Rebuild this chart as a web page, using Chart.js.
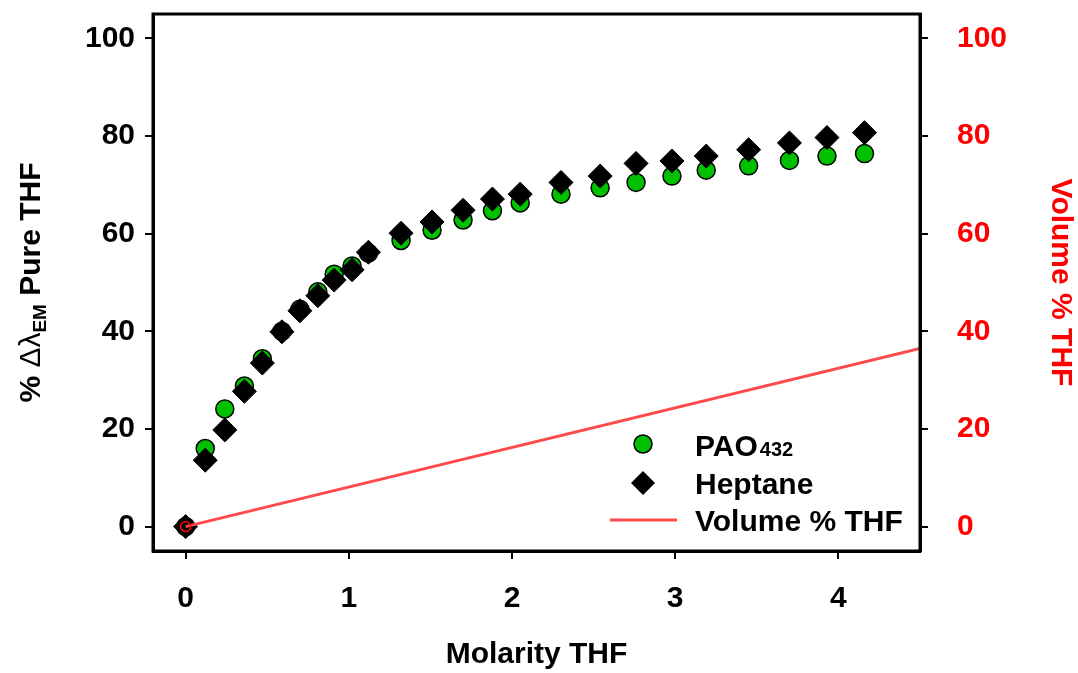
<!DOCTYPE html>
<html>
<head>
<meta charset="utf-8">
<script src="https://cdn.jsdelivr.net/npm/chart.js@4.4.1/dist/chart.umd.min.js"></script>
<style>
html,body{margin:0;padding:0;background:#fff;}
#wrap{width:1078px;height:673px;}
</style>
</head>
<body>
<div id="wrap"><canvas id="c" width="1078" height="673"></canvas></div>
<script>
// ---- data ----
const molarity = [0, 0.12, 0.24, 0.36, 0.47, 0.59, 0.70, 0.81, 0.91, 1.02, 1.12, 1.32, 1.51, 1.70, 1.88, 2.05, 2.30, 2.54, 2.76, 2.98, 3.19, 3.45, 3.70, 3.93, 4.16];
const pao432 = [0, 16.0, 24.1, 28.8, 34.4, 40.0, 44.5, 48.1, 51.7, 53.4, 56.0, 58.6, 60.7, 62.8, 64.7, 66.3, 68.1, 69.4, 70.5, 71.8, 73.0, 73.9, 75.0, 75.9, 76.4];
const heptane = [0, 13.6, 19.8, 27.7, 33.5, 39.9, 44.2, 47.3, 50.5, 52.6, 56.2, 60.1, 62.4, 64.8, 67.1, 68.1, 70.5, 71.8, 74.4, 74.9, 75.9, 77.2, 78.6, 79.7, 80.7];
const volMolarity = [0, 4.5];
const volPercent = [0, 36.5];
const xTicks = [0, 1, 2, 3, 4];
const yTicks = [0, 20, 40, 60, 80, 100];

const FAM = '"Liberation Sans", Arial, Helvetica, sans-serif';
const GREEN = '#00c000';
const RED_LINE = '#ff4a4a';

const toXY = (xs, ys) => xs.map((x, i) => ({x: x, y: ys[i]}));

const tickFont = {family: FAM, size: 30, weight: 'bold'};

const decorPlugin = {
  id: 'decor',
  afterDraw(chart) {
    const ctx = chart.ctx;
    const a = chart.chartArea;
    ctx.save();
    // frame
    ctx.strokeStyle = '#000';
    ctx.lineWidth = 3;
    ctx.strokeRect(a.left, a.top, a.right - a.left, a.bottom - a.top);

    // x title
    ctx.fillStyle = '#000';
    ctx.font = 'bold 30px ' + FAM;
    ctx.textAlign = 'center';
    ctx.textBaseline = 'middle';
    ctx.fillText('Molarity THF', (a.left + a.right) / 2, 655);

    // left title with subscript
    const cy = (a.top + a.bottom) / 2;
    ctx.save();
    ctx.translate(29, cy);
    ctx.rotate(-Math.PI / 2);
    const segs = [
      {t: '% ', f: 'bold 30px ' + FAM, dy: 0},
      {t: '\u0394\u03bb', f: '30px ' + FAM, dy: 0},
      {t: 'EM', f: 'bold 19px ' + FAM, dy: 6},
      {t: ' Pure THF', f: 'bold 30px ' + FAM, dy: 0}
    ];
    let total = 0;
    segs.forEach(s => { ctx.font = s.f; s.w = ctx.measureText(s.t).width; total += s.w; });
    let x0 = -total / 2;
    ctx.textAlign = 'left';
    ctx.textBaseline = 'alphabetic';
    segs.forEach(s => { ctx.font = s.f; ctx.fillText(s.t, x0, 11 + s.dy); x0 += s.w; });
    ctx.restore();

    // right title
    ctx.save();
    ctx.translate(1060, cy);
    ctx.rotate(Math.PI / 2);
    ctx.fillStyle = '#ff0000';
    ctx.font = 'bold 30px ' + FAM;
    ctx.textAlign = 'center';
    ctx.textBaseline = 'middle';
    ctx.fillText('Volume % THF', 0, 0);
    ctx.restore();

    // legend
    const lx = 643, tx = 695;
    const rows = [444, 483, 520];
    ctx.beginPath();
    ctx.arc(lx, rows[0], 9, 0, Math.PI * 2);
    ctx.fillStyle = GREEN; ctx.fill();
    ctx.lineWidth = 1.5; ctx.strokeStyle = '#000'; ctx.stroke();
    ctx.beginPath();
    ctx.moveTo(lx - 12, rows[1]); ctx.lineTo(lx, rows[1] - 12);
    ctx.lineTo(lx + 12, rows[1]); ctx.lineTo(lx, rows[1] + 12); ctx.closePath();
    ctx.fillStyle = '#000'; ctx.fill();
    ctx.beginPath();
    ctx.moveTo(610, rows[2]); ctx.lineTo(677, rows[2]);
    ctx.strokeStyle = RED_LINE; ctx.lineWidth = 3; ctx.stroke();
    ctx.fillStyle = '#000';
    ctx.textAlign = 'left';
    ctx.textBaseline = 'alphabetic';
    ctx.font = 'bold 30px ' + FAM;
    ctx.fillText('PAO', tx, rows[0] + 12);
    const w = ctx.measureText('PAO').width;
    ctx.font = 'bold 20px ' + FAM;
    ctx.fillText('432', tx + w + 2, rows[0] + 12);
    ctx.font = 'bold 30px ' + FAM;
    ctx.fillText('Heptane', tx, rows[1] + 11);
    ctx.fillText('Volume % THF', tx, rows[2] + 11);
    ctx.restore();
  }
};

const noPadV = s => { s.paddingTop = 0; s.paddingBottom = 0; };

new Chart(document.getElementById('c'), {
  type: 'scatter',
  data: {
    datasets: [
      {
        label: 'PAO432',
        data: toXY(molarity, pao432),
        yAxisID: 'y',
        pointStyle: 'circle',
        pointRadius: 9,
        pointHoverRadius: 9,
        backgroundColor: GREEN,
        borderColor: '#000',
        borderWidth: 1.5,
        order: 2
      },
      {
        label: 'Heptane',
        data: toXY(molarity, heptane),
        yAxisID: 'y',
        pointStyle: 'rectRot',
        pointRadius: 12,
        pointHoverRadius: 12,
        backgroundColor: '#000',
        borderColor: '#000',
        borderWidth: 1,
        order: 1
      },
      {
        type: 'line',
        label: 'Volume % THF',
        data: toXY(volMolarity, volPercent),
        yAxisID: 'y2',
        borderColor: RED_LINE,
        borderWidth: 3,
        pointRadius: [5, 0],
        pointBorderColor: '#ff0000',
        pointBackgroundColor: 'rgba(0,0,0,0)',
        pointBorderWidth: 1.5,
        fill: false,
        tension: 0,
        order: 0
      }
    ]
  },
  options: {
    responsive: false,
    animation: false,
    devicePixelRatio: 1,
    layout: {padding: {top: 14, left: 0, right: 0, bottom: 0}},
    plugins: {legend: {display: false}, tooltip: {enabled: false}},
    scales: {
      x: {
        type: 'linear',
        min: -0.2, max: 4.5,
        afterBuildTicks: s => { s.ticks = xTicks.map(v => ({value: v})); },
        afterFit: s => { s.height = 122; s.paddingLeft = 0; s.paddingRight = 0; },
        grid: {drawOnChartArea: false, drawTicks: true, tickLength: 8, color: '#000', lineWidth: 2},
        border: {color: '#000', width: 3},
        ticks: {color: '#000', font: tickFont, padding: 22, maxRotation: 0, callback: v => String(v)}
      },
      y: {
        position: 'left',
        min: -5, max: 105,
        afterBuildTicks: s => { s.ticks = yTicks.map(v => ({value: v})); },
        afterFit: s => { s.width = 153; noPadV(s); },
        grid: {drawOnChartArea: false, drawTicks: true, tickLength: 8, color: '#000', lineWidth: 2},
        border: {color: '#000', width: 3},
        ticks: {color: '#000', font: tickFont, padding: 10, callback: v => String(v)}
      },
      y2: {
        position: 'right',
        min: -5, max: 105,
        afterBuildTicks: s => { s.ticks = yTicks.map(v => ({value: v})); },
        afterFit: s => { s.width = 158; noPadV(s); },
        grid: {drawOnChartArea: false, drawTicks: true, tickLength: 8, color: '#000', lineWidth: 2},
        border: {color: '#000', width: 3},
        ticks: {color: '#ff0000', font: tickFont, padding: 29, callback: v => String(v)}
      }
    }
  },
  plugins: [decorPlugin]
});
</script>
</body>
</html>
